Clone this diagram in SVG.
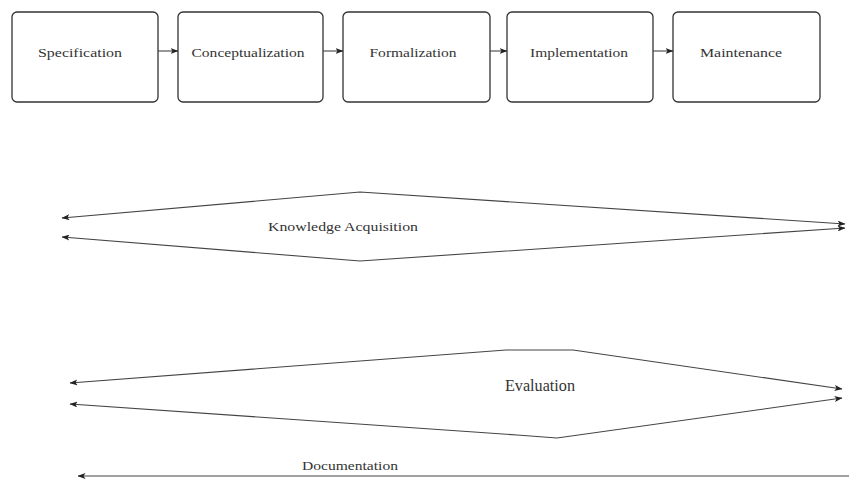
<svg xmlns="http://www.w3.org/2000/svg" width="851" height="479" viewBox="0 0 851 479">
  <defs>
    <marker id="arrow" viewBox="0 0 8 6" refX="7.5" refY="3" markerWidth="8" markerHeight="6" markerUnits="userSpaceOnUse" orient="auto-start-reverse">
      <path d="M0,0 L8,3 L0,6 L2,3 Z" fill="#222"/>
    </marker>
    <style>
      .box { fill: #fff; stroke: #333; stroke-width: 1.3; }
      .lbl { font-family: "Liberation Serif", "Times New Roman", serif; fill: #333; text-anchor: middle; }
      .edge { fill: none; stroke: #444; stroke-width: 1.1; }
    </style>
  </defs>
  <rect width="851" height="479" fill="#fff"/>

  <!-- phase boxes -->
  <g id="specification">
    <rect class="box" x="12" y="12" width="146" height="90" rx="5"/>
    <text class="lbl" x="80" y="57" font-size="13" textLength="84" lengthAdjust="spacingAndGlyphs">Specification</text>
  </g>
  <g id="conceptualization">
    <rect class="box" x="178" y="12" width="145" height="90" rx="5"/>
    <text class="lbl" x="248" y="57" font-size="13" textLength="113" lengthAdjust="spacingAndGlyphs">Conceptualization</text>
  </g>
  <g id="formalization">
    <rect class="box" x="343" y="12" width="147" height="90" rx="5"/>
    <text class="lbl" x="413" y="57" font-size="13" textLength="87" lengthAdjust="spacingAndGlyphs">Formalization</text>
  </g>
  <g id="implementation">
    <rect class="box" x="507" y="12" width="146" height="90" rx="5"/>
    <text class="lbl" x="579" y="57" font-size="13" textLength="98" lengthAdjust="spacingAndGlyphs">Implementation</text>
  </g>
  <g id="maintenance">
    <rect class="box" x="673" y="12" width="147" height="90" rx="5"/>
    <text class="lbl" x="741" y="57" font-size="13" textLength="82" lengthAdjust="spacingAndGlyphs">Maintenance</text>
  </g>

  <!-- activity bands and labels -->
  <g id="knowledge-acquisition">
    <text class="lbl" x="343" y="231" font-size="13" textLength="150" lengthAdjust="spacingAndGlyphs">Knowledge Acquisition</text>
  </g>
  <g id="evaluation">
    <text class="lbl" x="540" y="391" font-size="16" textLength="70" lengthAdjust="spacingAndGlyphs">Evaluation</text>
  </g>
  <g id="documentation">
    <text class="lbl" x="350" y="470" font-size="12.5" textLength="96" lengthAdjust="spacingAndGlyphs">Documentation</text>
  </g>

  <!-- connectors -->
  <g id="connectors">
    <line class="edge" x1="158" y1="51" x2="178" y2="51" marker-end="url(#arrow)"/>
    <line class="edge" x1="323" y1="51" x2="343" y2="51" marker-end="url(#arrow)"/>
    <line class="edge" x1="490" y1="51" x2="507" y2="51" marker-end="url(#arrow)"/>
    <line class="edge" x1="653" y1="51" x2="673" y2="51" marker-end="url(#arrow)"/>

    <polyline class="edge" points="62,218 360,192 845,224" marker-start="url(#arrow)" marker-end="url(#arrow)"/>
    <polyline class="edge" points="62,237 360,261 845,228" marker-start="url(#arrow)" marker-end="url(#arrow)"/>

    <polyline class="edge" points="70,383 506,350 573,350 842,389" marker-start="url(#arrow)" marker-end="url(#arrow)"/>
    <polyline class="edge" points="70,404 517,435 557,438 842,398" marker-start="url(#arrow)" marker-end="url(#arrow)"/>

    <line class="edge" x1="849" y1="476" x2="78" y2="476" marker-end="url(#arrow)"/>
  </g>
</svg>
